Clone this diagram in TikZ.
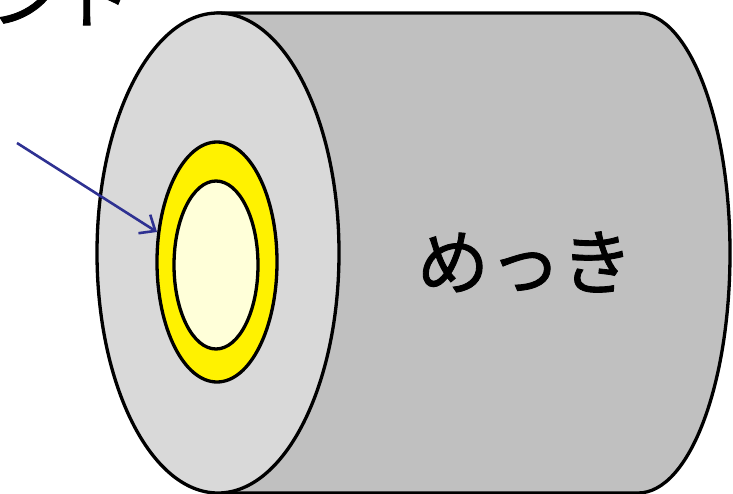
\documentclass[tikz,border=0pt]{standalone}
\usepackage{fontspec}
\newfontfamily\cjk[FakeBold=1.2]{Noto Sans CJK JP}
\usepackage{xcolor}
\usetikzlibrary{arrows.meta}

\definecolor{faceGray}{HTML}{D9D9D9}
\definecolor{bodyGray}{HTML}{C0C0C0}
\definecolor{coreYellow}{HTML}{FFFFD9}
\definecolor{arrowBlue}{HTML}{2E3192}

\begin{document}
\begin{tikzpicture}[x=1pt,y=-1pt,
    outline/.style={draw=black,line width=3.3pt},
    bigtext/.style={font=\cjk\fontsize{72}{86}\selectfont,inner sep=0pt},
    pointer/.style={draw=arrowBlue,line width=2.6pt,-{Straight Barb[length=13pt,width=22pt,line width=2.6pt]}}]
        \useasboundingbox (0,0) rectangle (733,494);
        % body of the cable
        \draw[outline,fill=bodyGray] (218,13) -- (638,13)
            arc[start angle=-90,end angle=90,x radius=92,y radius=240] -- (218,493) -- cycle;
        % front face and the layers inside
        \draw[outline,fill=faceGray] (218,253) ellipse[x radius=121,y radius=240];
        \draw[outline,fill=yellow] (217,262) ellipse[x radius=60,y radius=120];
        \draw[outline,fill=coreYellow] (216,265) ellipse[x radius=42,y radius=84];
        \node[bigtext] (plating) at (525,262) {めっき};
        \node[bigtext,anchor=base east] (label) at (134,22) {ンド};
        \coordinate (tail) at (17,143);
        \coordinate (tip) at (157,232);
        \draw[pointer] (tail) -- (tip);
\end{tikzpicture}
\end{document}
